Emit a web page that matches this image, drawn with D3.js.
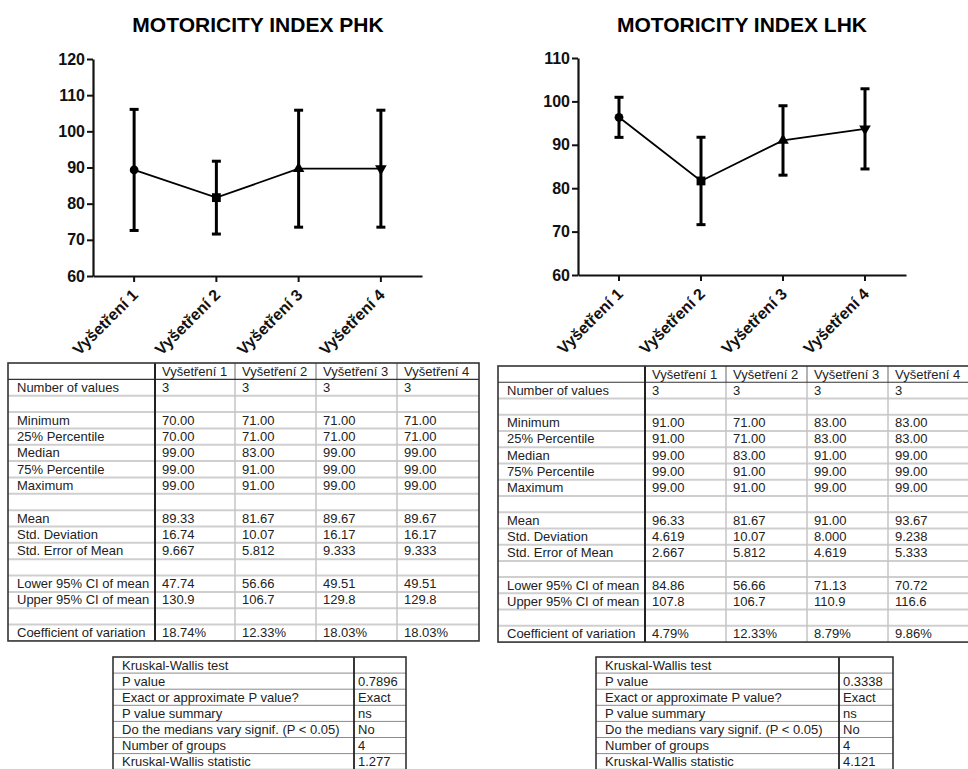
<!DOCTYPE html>
<html>
<head>
<meta charset="utf-8">
<script src="https://cdn.jsdelivr.net/npm/d3@7"></script>
<style>
  body { margin: 0; background: #fff; }
  svg { display: block; }
  text { font-family: "Liberation Sans", Arial, Helvetica, sans-serif; }
</style>
</head>
<body>
<svg id="chart" width="968" height="769"></svg>
<script>
// ---- data ----
const groups = ["Vyšetření 1", "Vyšetření 2", "Vyšetření 3", "Vyšetření 4"];

const phkMean = [89.33, 81.67, 89.67, 89.67];
const phkSD   = [16.74, 10.07, 16.17, 16.17];
const lhkMean = [96.33, 81.67, 91.00, 93.67];
const lhkSD   = [4.619, 10.07, 8.000, 9.238];

const phkTicks = [60, 70, 80, 90, 100, 110, 120];
const lhkTicks = [60, 70, 80, 90, 100, 110];

const phkN      = [3, 3, 3, 3];
const phkMin    = [70, 71, 71, 71];
const phkQ1     = [70, 71, 71, 71];
const phkMedian = [99, 83, 99, 99];
const phkQ3     = [99, 91, 99, 99];
const phkMax    = [99, 91, 99, 99];
const phkSEM    = [9.667, 5.812, 9.333, 9.333];
const phkLower  = [47.74, 56.66, 49.51, 49.51];
const phkUpper  = [130.9, 106.7, 129.8, 129.8];
const phkCV     = [18.74, 12.33, 18.03, 18.03];

const lhkN      = [3, 3, 3, 3];
const lhkMin    = [91, 71, 83, 83];
const lhkQ1     = [91, 71, 83, 83];
const lhkMedian = [99, 83, 91, 99];
const lhkQ3     = [99, 91, 99, 99];
const lhkMax    = [99, 91, 99, 99];
const lhkSEM    = [2.667, 5.812, 4.619, 5.333];
const lhkLower  = [84.86, 56.66, 71.13, 70.72];
const lhkUpper  = [107.8, 106.7, 110.9, 116.6];
const lhkCV     = [4.79, 12.33, 8.79, 9.86];

const kwLabels = ["Kruskal-Wallis test", "P value", "Exact or approximate P value?",
  "P value summary", "Do the medians vary signif. (P < 0.05)", "Number of groups",
  "Kruskal-Wallis statistic"];
const phkKW = ["", "0.7896", "Exact", "ns", "No", "4", "1.277"];
const lhkKW = ["", "0.3338", "Exact", "ns", "No", "4", "4.121"];

// ---- helpers ----
const svg = d3.select("#chart");
const f2 = d3.format(".2f");
const f4 = d3.format(".4r");
const fInt = d3.format("d");
const fPct = v => d3.format(".2f")(v) + "%";

// one marker shape per exam, in order
const markerSymbols = [
  { type: d3.symbolCircle, size: 60, rot: 0 },
  { type: d3.symbolSquare, size: 78, rot: 0 },
  { type: d3.symbolTriangle, size: 58, rot: 0 },
  { type: d3.symbolTriangle, size: 58, rot: 180 }
];

function drawChart(cfg) {
  const g = svg.append("g");
  const x = d3.scaleBand().domain(groups).range([cfg.left, cfg.right]);
  const y = d3.scaleLinear().domain([cfg.ticks[0], cfg.ticks[cfg.ticks.length - 1]])
    .range([cfg.bottom, cfg.top]);
  const cx = d => x(d) + x.bandwidth() / 2;

  // title
  g.append("text")
    .attr("x", cfg.titleX).attr("y", 32)
    .attr("text-anchor", "middle")
    .style("font-size", "21px").style("font-weight", "bold")
    .text(cfg.title);

  // y axis
  const ya = g.append("g")
    .attr("transform", `translate(${cfg.left},0)`)
    .call(d3.axisLeft(y).tickValues(cfg.ticks).tickSize(6).tickSizeOuter(0).tickPadding(2));
  ya.select(".domain").attr("stroke", "#111").attr("stroke-width", 2.2);
  ya.selectAll(".tick line").attr("stroke", "#111").attr("stroke-width", 2);
  ya.selectAll(".tick text")
    .attr("fill", "#111")
    .style("font-size", "16px").style("font-weight", "bold")
    .style("font-family", "'Liberation Sans', Arial, sans-serif");

  // x axis
  const xa = g.append("g")
    .attr("transform", `translate(0,${cfg.bottom})`)
    .call(d3.axisBottom(x).tickSize(6).tickSizeOuter(0));
  xa.select(".domain").attr("stroke", "#111").attr("stroke-width", 2.2);
  xa.selectAll(".tick line").attr("stroke", "#111").attr("stroke-width", 2);
  xa.selectAll(".tick text")
    .attr("fill", "#111")
    .attr("text-anchor", "end")
    .attr("y", 0).attr("dy", 0)
    .attr("transform", "translate(5,20) rotate(-45)")
    .style("font-size", "16px").style("font-weight", "bold")
    .style("font-family", "'Liberation Sans', Arial, sans-serif");

  // error bars (mean ± SD)
  const eb = g.append("g").attr("stroke", "#000").attr("stroke-width", 3);
  groups.forEach((grp, i) => {
    const hi = y(cfg.mean[i] + cfg.sd[i]);
    const lo = y(cfg.mean[i] - cfg.sd[i]);
    eb.append("line").attr("x1", cx(grp)).attr("x2", cx(grp)).attr("y1", hi).attr("y2", lo);
    eb.append("line").attr("x1", cx(grp) - 4.5).attr("x2", cx(grp) + 4.5).attr("y1", hi).attr("y2", hi);
    eb.append("line").attr("x1", cx(grp) - 4.5).attr("x2", cx(grp) + 4.5).attr("y1", lo).attr("y2", lo);
  });

  // connecting line
  const line = d3.line().x((d, i) => cx(groups[i])).y(d => y(d));
  g.append("path").datum(cfg.mean)
    .attr("d", line).attr("fill", "none")
    .attr("stroke", "#000").attr("stroke-width", 1.8);

  // markers
  groups.forEach((grp, i) => {
    const m = markerSymbols[i];
    g.append("path")
      .attr("d", d3.symbol().type(m.type).size(m.size)())
      .attr("transform", `translate(${cx(grp)},${y(cfg.mean[i])}) rotate(${m.rot})`)
      .attr("fill", "#000");
  });
}

function statRows(n, mn, q1, med, q3, mx, mean, sd, sem, lower, upper, cv) {
  return [
    n.map(fInt), [], mn.map(f2), q1.map(f2), med.map(f2), q3.map(f2), mx.map(f2), [],
    mean.map(f2), sd.map(f4), sem.map(f4), [], lower.map(f4), upper.map(f4), [], cv.map(fPct)
  ];
}

function drawStatTable(cfg) {
  const g = svg.append("g");
  const cols = cfg.cols; // column boundaries
  const nRows = cfg.rows.length + 1;
  const rowY = i => cfg.top + i * cfg.rowH;
  const bottom = rowY(nRows);

  // light horizontal row rules
  for (let i = 2; i < nRows; i++) {
    g.append("line").attr("x1", cols[0]).attr("x2", cols[cols.length - 1])
      .attr("y1", rowY(i)).attr("y2", rowY(i))
      .attr("stroke", "#cfcfcf").attr("stroke-width", 2);
  }
  // light vertical dividers between value columns
  for (let c = 2; c < cols.length - 1; c++) {
    g.append("line").attr("x1", cols[c]).attr("x2", cols[c])
      .attr("y1", rowY(1)).attr("y2", bottom)
      .attr("stroke", "#c4c4c4").attr("stroke-width", 1.5);
    g.append("line").attr("x1", cols[c]).attr("x2", cols[c])
      .attr("y1", rowY(0)).attr("y2", rowY(1))
      .attr("stroke", "#666").attr("stroke-width", 1);
  }
  // header rule
  g.append("line").attr("x1", cols[0]).attr("x2", cols[cols.length - 1])
    .attr("y1", rowY(1)).attr("y2", rowY(1))
    .attr("stroke", "#333").attr("stroke-width", 1.2);
  // first column divider
  g.append("line").attr("x1", cols[1]).attr("x2", cols[1])
    .attr("y1", rowY(0)).attr("y2", bottom)
    .attr("stroke", "#222").attr("stroke-width", 2);
  // outer border
  g.append("rect")
    .attr("x", cols[0]).attr("y", cfg.top)
    .attr("width", cols[cols.length - 1] - cols[0]).attr("height", bottom - cfg.top)
    .attr("fill", "none").attr("stroke", "#333").attr("stroke-width", 1.6);

  const txt = (xp, yp, s) => g.append("text")
    .attr("x", xp).attr("y", yp)
    .attr("fill", "#222").style("font-size", "13px").text(s);

  groups.forEach((grp, c) => txt(cols[c + 1] + 7, rowY(0) + 12.5, grp));
  cfg.rows.forEach((vals, r) => {
    txt(cols[0] + 9, rowY(r + 1) + 12.5, statLabels[r]);
    vals.forEach((v, c) => txt(cols[c + 1] + 7, rowY(r + 1) + 12.5, v));
  });
}

const statLabels = ["Number of values", "", "Minimum", "25% Percentile", "Median",
  "75% Percentile", "Maximum", "", "Mean", "Std. Deviation", "Std. Error of Mean", "",
  "Lower 95% CI of mean", "Upper 95% CI of mean", "", "Coefficient of variation"];

function drawKWTable(cfg) {
  const g = svg.append("g");
  const rowY = i => cfg.top + i * cfg.rowH;
  const bottom = rowY(kwLabels.length);
  for (let i = 1; i < kwLabels.length; i++) {
    g.append("line").attr("x1", cfg.left).attr("x2", cfg.right)
      .attr("y1", rowY(i)).attr("y2", rowY(i))
      .attr("stroke", "#8a8a8a").attr("stroke-width", 1);
  }
  g.append("line").attr("x1", cfg.mid).attr("x2", cfg.mid)
    .attr("y1", cfg.top).attr("y2", bottom)
    .attr("stroke", "#222").attr("stroke-width", 1.8);
  g.append("rect")
    .attr("x", cfg.left).attr("y", cfg.top)
    .attr("width", cfg.right - cfg.left).attr("height", bottom - cfg.top)
    .attr("fill", "none").attr("stroke", "#333").attr("stroke-width", 1.6);
  kwLabels.forEach((lab, r) => {
    g.append("text").attr("x", cfg.left + 9).attr("y", rowY(r) + 12.5)
      .attr("fill", "#222").style("font-size", "13px").text(lab);
    g.append("text").attr("x", cfg.mid + 4).attr("y", rowY(r) + 12.5)
      .attr("fill", "#222").style("font-size", "13px").text(cfg.values[r]);
  });
}

// ---- charts ----
drawChart({ title: "MOTORICITY INDEX PHK", titleX: 258, left: 93, right: 422,
  top: 59, bottom: 276, ticks: phkTicks, mean: phkMean, sd: phkSD });
drawChart({ title: "MOTORICITY INDEX LHK", titleX: 742, left: 578, right: 906,
  top: 58, bottom: 275, ticks: lhkTicks, mean: lhkMean, sd: lhkSD });

// ---- descriptive statistics ----
drawStatTable({ cols: [8, 155, 235, 316, 397, 479], top: 363, rowH: 16.35,
  rows: statRows(phkN, phkMin, phkQ1, phkMedian, phkQ3, phkMax, phkMean, phkSD, phkSEM, phkLower, phkUpper, phkCV) });
drawStatTable({ cols: [498, 645, 726, 807, 888, 969], top: 366, rowH: 16.24,
  rows: statRows(lhkN, lhkMin, lhkQ1, lhkMedian, lhkQ3, lhkMax, lhkMean, lhkSD, lhkSEM, lhkLower, lhkUpper, lhkCV) });

// ---- Kruskal-Wallis tests ----
drawKWTable({ left: 113, mid: 354, right: 406, top: 657, rowH: 16.1, values: phkKW });
drawKWTable({ left: 596, mid: 839, right: 893, top: 657, rowH: 16.1, values: lhkKW });
</script>
</body>
</html>
